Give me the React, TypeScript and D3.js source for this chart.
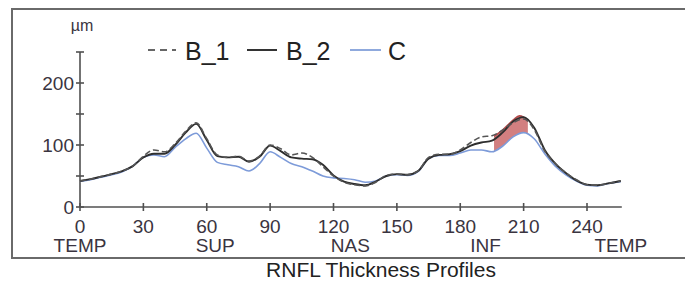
import React from "react";
import * as d3 from "d3";

const ANGLES = [
  0, 5, 10, 15, 20, 25, 30, 35, 40, 45, 50, 55, 60, 65, 70, 75, 80, 85, 90, 95,
  100, 105, 110, 115, 120, 125, 130, 135, 140, 145, 150, 155, 160, 165, 170,
  175, 180, 185, 190, 195, 200, 205, 210, 215, 220, 225, 230, 235, 240, 245,
  250, 256,
];

const B_1 = [
  42, 45, 49, 53, 58, 66, 82, 92, 89, 102, 122, 136, 110, 84, 80, 82, 74, 82,
  100, 94, 84, 87, 80, 65, 50, 40, 36, 34, 40, 51, 53, 52, 58, 80, 85, 85, 92,
  104, 113, 115, 124, 136, 142, 125, 90, 70, 55, 44, 36, 35, 38, 42,
];

const B_2 = [
  42, 45, 49, 53, 58, 66, 80, 86, 86, 100, 120, 134, 108, 82, 80, 81, 73, 81,
  99, 90, 80, 78, 77, 68, 51, 41, 37, 35, 41, 50, 53, 52, 58, 78, 84, 85, 90,
  99, 104, 107, 120, 138, 145, 128, 92, 70, 55, 43, 36, 35, 38, 42,
];

const C = [
  41, 44, 48, 52, 57, 66, 80, 84, 81, 96, 110, 119, 95, 72, 68, 65, 58, 70, 89,
  80, 70, 65, 58, 50, 47, 46, 44, 40, 42, 50, 52, 51, 57, 78, 83, 83, 87, 92,
  92, 89, 98, 113, 120, 110, 86, 66, 52, 42, 35, 34, 38, 41,
];

// red highlighted sector between C and B
const RED_ANGLES = [196, 200, 205, 208, 210, 212];
const RED_TOP = [114, 124, 140, 147, 145, 140];
const RED_BOTTOM = [89, 98, 113, 119, 120, 118];

const X_TICKS = [0, 30, 60, 90, 120, 150, 180, 210, 240];
const Y_TICKS = [0, 50, 100, 150, 200, 250];
const Y_LABELS = [0, 100, 200];
const SECTORS = [
  { label: "TEMP", at: 0 },
  { label: "SUP", at: 64 },
  { label: "NAS", at: 128 },
  { label: "INF", at: 192 },
  { label: "TEMP", at: 256 },
];

const FONT = "'Liberation Sans', Arial, sans-serif";

export default function App() {
  const x = d3.scaleLinear().domain([0, 256]).range([80, 620.8]);
  const y = d3.scaleLinear().domain([0, 250]).range([207, 52]);

  const line = (vals: number[]) =>
    d3
      .line<number>()
      .x((_, i) => x(ANGLES[i]))
      .y((d) => y(d))
      .curve(d3.curveMonotoneX)(vals)!;

  const red = d3
    .area<number>()
    .x((_, i) => x(RED_ANGLES[i]))
    .y0((_, i) => y(RED_BOTTOM[i]))
    .y1((d) => y(d))
    .curve(d3.curveMonotoneX)(RED_TOP)!;

  const redEdge = d3
    .line<number>()
    .x((_, i) => x(RED_ANGLES[i]))
    .y((d) => y(d))
    .curve(d3.curveMonotoneX)(RED_TOP)!;

  const axisColor = "#505050";
  const textColor = "#3a3440";

  return (
    <svg
      width={685}
      height={282}
      style={{ position: "absolute", left: 0, top: 0, background: "#fff" }}
      fontFamily={FONT}
    >
      <rect x={12} y={9} width={690} height={249} fill="none" stroke="#6a6a6a" strokeWidth={2} />

      {/* y axis */}
      <line x1={x(0)} x2={x(0)} y1={y(0)} y2={y(250)} stroke={axisColor} strokeWidth={1.6} />
      {Y_TICKS.map((t) => (
        <line key={t} x1={x(0) - 4} x2={x(0) + 4} y1={y(t)} y2={y(t)} stroke={axisColor} strokeWidth={1.6} />
      ))}
      {Y_LABELS.map((t) => (
        <text key={t} x={74} y={y(t)} dy="0.36em" textAnchor="end" fontSize={19} fill={textColor}>
          {t}
        </text>
      ))}
      <text x={82} y={31} textAnchor="middle" fontSize={16} fill={textColor}>
        µm
      </text>

      {/* x axis */}
      <line x1={x(0)} x2={x(256) + 1} y1={y(0)} y2={y(0)} stroke={axisColor} strokeWidth={1.6} />
      {X_TICKS.map((t) => (
        <g key={t}>
          <line x1={x(t)} x2={x(t)} y1={y(0) - 4} y2={y(0) + 4} stroke={axisColor} strokeWidth={1.6} />
          <text x={x(t)} y={233} textAnchor="middle" fontSize={19} fill={textColor}>
            {t}
          </text>
        </g>
      ))}
      {SECTORS.map((s, i) => (
        <text key={i} x={x(s.at)} y={252} textAnchor="middle" fontSize={19} fill={textColor}>
          {s.label}
        </text>
      ))}

      {/* profiles */}
      <path d={red} fill="#d27f80" stroke="none" />
      <path d={redEdge} fill="none" stroke="#b24c4c" strokeWidth={1.6} />
      <path d={line(C)} fill="none" stroke="#7d9bd9" strokeWidth={1.6} />
      <path d={line(B_2)} fill="none" stroke="#2e2e2e" strokeWidth={1.9} />
      <path d={line(B_1)} fill="none" stroke="#555" strokeWidth={1.6} strokeDasharray="6,3" />

      {/* legend */}
      <line x1={148} x2={176} y1={50} y2={50} stroke="#666" strokeWidth={2} strokeDasharray="7,5" />
      <text x={185} y={60} fontSize={25} fill="#222">B_1</text>
      <line x1={247} x2={277} y1={50} y2={50} stroke="#333" strokeWidth={2} />
      <text x={286} y={60} fontSize={25} fill="#222">B_2</text>
      <line x1={350} x2={381} y1={50} y2={50} stroke="#8fa9dd" strokeWidth={2} />
      <text x={388} y={60} fontSize={25} fill="#222">C</text>

      <text x={381} y={277} textAnchor="middle" fontSize={21} fill="#222">
        RNFL Thickness Profiles
      </text>
    </svg>
  );
}
